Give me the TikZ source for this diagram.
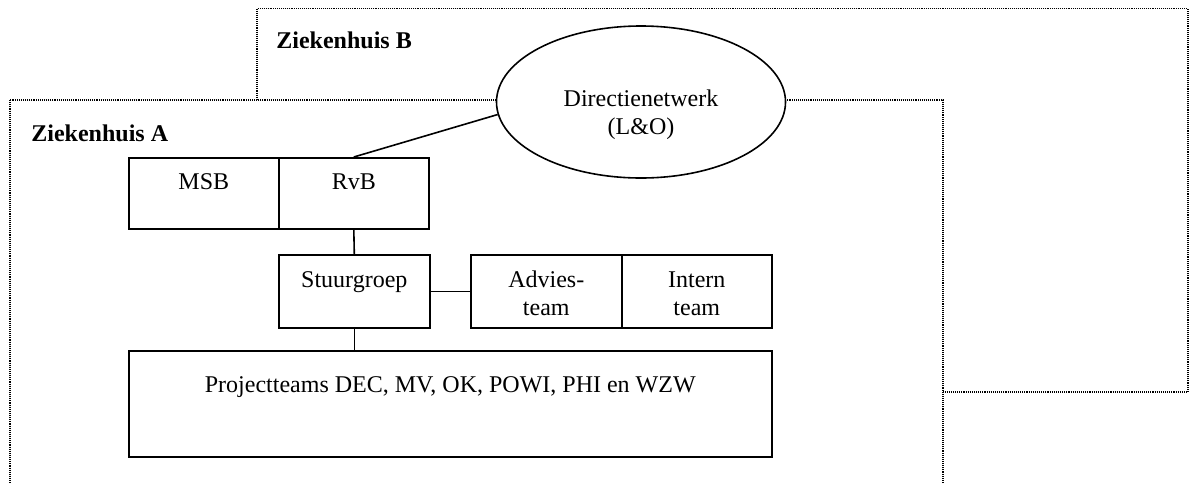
\documentclass[tikz,border=0pt]{standalone}
\usepackage{fontspec}
\setmainfont{Liberation Serif}
\usetikzlibrary{shapes.geometric,calc}
\begin{document}
\begin{tikzpicture}[x=0.5pt, y=-0.5pt,
  font=\fontsize{12pt}{14pt}\selectfont,
  frame/.style={line width=0.7pt, dash pattern=on 0.55pt off 0.5pt},
  unit/.style={draw, line width=0.8pt, inner xsep=0pt, inner ysep=0pt,
    anchor=north west, align=center},
  link/.style={line width=0.8pt},
  hospital/.style={font=\fontsize{12pt}{14pt}\selectfont\bfseries,
    anchor=base west, inner sep=0pt}]

\useasboundingbox (0,0) rectangle (1192,483);
\clip (0,0) rectangle (1192,483);

% Ziekenhuis B (behind)
\draw[frame, fill=white] (257,8.5) rectangle (1188,392);
\node[hospital] (labB) at (276,48) {Ziekenhuis B};

% Ziekenhuis A (in front, runs on below the page edge)
\draw[frame, fill=white] (10,100) rectangle (943,560);
\node[hospital] (labA) at (31,141) {Ziekenhuis A};

% shared management network
\node[ellipse, draw, fill=white, line width=0.8pt, inner sep=0pt,
      minimum width=144.5pt, minimum height=76pt] (dir) at (641,102) {};
\node[align=center, inner sep=0pt] (dirtext) at ([yshift=-6.5pt]dir.center)
  {Directienetwerk\\(L\&O)};

% top level
\node[unit, minimum width=75pt, text height=16pt, text depth=19.5pt] (msb) at (128,157) {MSB};
\node[unit, minimum width=75pt, text height=16pt, text depth=19.5pt] (rvb) at (278,157) {RvB};

% steering level
\node[unit, minimum width=75.5pt, text height=16.5pt, text depth=20pt] (stuur) at (278,254) {Stuurgroep};
\node[unit, minimum width=75.5pt, text height=30.5pt, text depth=6pt] (advies) at (470,254) {Advies-\\team};
\node[unit, minimum width=75pt, text height=30.5pt, text depth=6pt] (intern) at (621,254) {Intern\\team};

% project level
\node[unit, minimum width=321.5pt, text height=21pt, text depth=32pt] (proj) at (128,350)
  {Projectteams DEC, MV, OK, POWI, PHI en WZW};

% connectors
\draw[link] (dir.185) -- (rvb.north);
\draw[link] (rvb.south) -- (stuur.north);
\draw[link] (stuur.east) -- (advies.west);
\draw[link] (stuur.south) -- (stuur.south |- proj.north);
\end{tikzpicture}
\end{document}
